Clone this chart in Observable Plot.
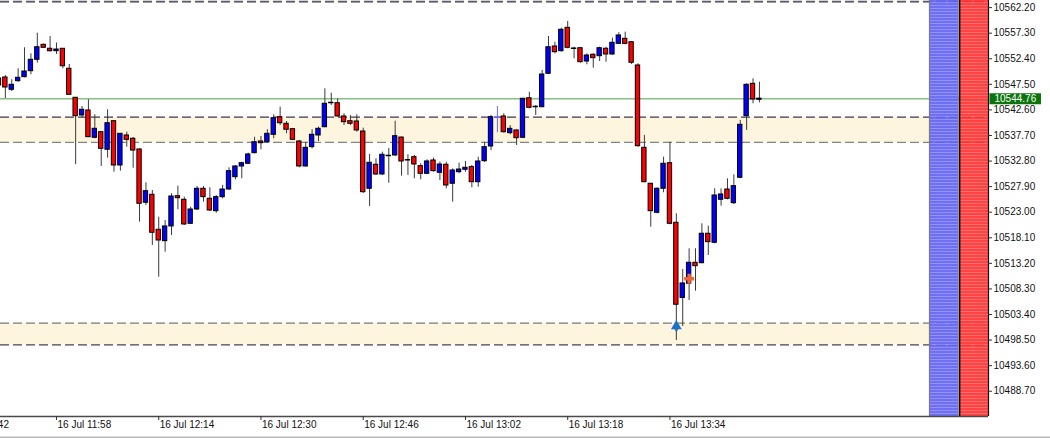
<!DOCTYPE html>
<html><head><meta charset="utf-8">
<script src="https://cdn.jsdelivr.net/npm/d3@7"></script>
<script src="https://cdn.jsdelivr.net/npm/@observablehq/plot@0.6"></script>
<style>
html,body{margin:0;padding:0;background:#fff;overflow:hidden}
#chart svg{display:block}
</style></head><body><div id="chart"></div>
<script>
// ---- data (M1 candles, 16 Jul, from 11:49) ----
const firstBar = "11:49";
const open = [
10548.62,10548.81,10546.45,10548.10,10548.87,10550.02,10552.20,10555.07,10554.31,10553.85,
10554.31,10550.48,10544.92,10541.53,10542.49,10537.26,10538.33,10534.96,10540.44,10531.95,
10537.70,10537.07,10535.02,10524.81,10526.34,10519.63,10517.45,10520.27,10526.07,10525.38,
10520.78,10523.52,10527.49,10525.57,10523.20,10525.88,10527.35,10529.71,10531.76,10532.28,
10534.31,10536.55,10536.41,10537.83,10541.20,10539.94,10538.91,10536.55,10531.76,10535.46,
10537.70,10539.29,10544.02,10543.89,10541.34,10540.44,10540.38,10538.46,10527.49,10532.09,
10530.23,10533.87,10533.87,10537.31,10533.04,10533.54,10531.82,10530.36,10532.91,10530.55,
10532.09,10528.45,10530.67,10531.13,10531.63,10528.75,10532.77,10535.59,10541.20,10541.34,
10538.14,10538.66,10537.26,10544.84,10543.25,10543.12,10549.52,10554.75,10553.85,10558.33,
10554.42,10554.42,10551.87,10553.16,10552.89,10554.31,10553.22,10555.26,10556.22,10555.57,
10551.11,10535.34,10528.45,10522.89,10527.49,10532.39,10520.97,10506.57,10509.29,10513.31,
10513.23,10518.87,10517.14,10525.38,10527.35,10524.73,10529.60,10541.40,10547.60,10544.54];
const high = [
10549.77,10549.19,10548.37,10550.48,10554.50,10553.35,10557.30,10555.23,10556.66,10555.42,
10554.36,10551.30,10544.98,10543.25,10544.54,10541.66,10538.46,10542.62,10540.57,10538.08,
10538.33,10537.31,10535.11,10528.64,10527.16,10522.05,10521.41,10526.53,10527.99,10525.88,
10523.96,10527.93,10527.93,10527.68,10526.20,10528.12,10531.51,10531.95,10532.58,10534.31,
10537.37,10537.51,10538.79,10541.66,10543.12,10540.38,10539.04,10536.74,10536.41,10538.79,
10539.29,10546.64,10545.80,10544.73,10541.86,10541.53,10541.66,10539.10,10534.06,10533.23,
10534.50,10535.21,10540.44,10537.37,10534.00,10533.87,10532.28,10533.04,10533.35,10532.58,
10532.58,10531.32,10532.39,10532.72,10531.95,10533.54,10536.41,10541.53,10543.25,10541.86,
10539.61,10538.79,10544.84,10545.99,10543.45,10550.15,10556.66,10555.57,10558.25,10559.54,
10554.61,10554.56,10553.35,10553.35,10554.61,10554.61,10556.34,10557.37,10557.49,10555.71,
10551.43,10537.70,10528.50,10527.68,10533.54,10536.41,10522.70,10512.03,10515.99,10515.99,
10520.78,10520.32,10527.49,10527.49,10529.40,10530.17,10540.57,10547.60,10548.56,10547.91];
const low = [
10546.70,10544.79,10546.13,10547.91,10548.75,10549.33,10551.55,10554.36,10553.66,10553.22,
10550.48,10545.36,10532.09,10541.01,10537.32,10537.07,10531.76,10533.35,10530.67,10530.86,
10535.46,10531.43,10521.09,10524.29,10516.63,10510.55,10515.34,10518.54,10523.46,10520.46,
10520.65,10523.33,10524.92,10523.14,10522.81,10525.57,10527.16,10529.21,10529.40,10532.14,
10534.19,10534.96,10536.22,10537.07,10539.61,10538.02,10536.74,10531.51,10531.63,10535.15,
10536.55,10539.17,10543.45,10541.24,10539.61,10539.61,10538.33,10526.59,10524.10,10530.04,
10530.04,10528.56,10533.68,10529.90,10530.04,10529.40,10529.21,10530.23,10530.67,10529.08,
10527.49,10524.92,10530.36,10530.67,10527.68,10527.79,10532.53,10534.82,10538.22,10538.14,
10537.83,10535.78,10537.07,10542.81,10541.53,10543.00,10549.38,10553.35,10553.66,10554.31,
10552.39,10551.55,10551.24,10550.59,10551.87,10551.74,10553.02,10555.13,10555.07,10551.30,
10535.46,10528.64,10520.13,10522.70,10526.72,10520.59,10498.43,10501.11,10506.09,10507.87,
10513.12,10514.71,10516.95,10524.15,10525.38,10524.48,10529.40,10538.66,10543.77,10543.96];
const close = [
10547.28,10546.89,10547.41,10548.75,10549.96,10552.20,10554.61,10554.50,10553.85,10554.17,
10550.97,10545.49,10541.40,10542.62,10537.37,10538.98,10535.15,10540.05,10531.95,10538.02,
10536.87,10534.82,10524.61,10527.03,10519.06,10517.58,10520.27,10526.01,10525.69,10520.65,
10523.52,10527.49,10525.88,10523.33,10525.88,10527.35,10530.86,10531.76,10532.39,10534.06,
10536.41,10536.22,10538.02,10541.01,10540.05,10538.79,10536.87,10531.76,10535.34,10537.83,
10538.98,10543.77,10544.02,10541.34,10540.25,10539.94,10538.66,10526.84,10532.47,10530.23,
10534.00,10533.87,10537.56,10532.72,10533.04,10532.14,10530.36,10532.72,10530.86,10532.14,
10528.12,10530.99,10531.18,10531.51,10528.75,10532.72,10535.46,10541.20,10541.20,10538.33,
10538.98,10537.18,10544.73,10543.00,10543.25,10549.38,10554.61,10553.66,10557.95,10554.50,
10554.42,10551.74,10553.02,10552.51,10554.42,10553.22,10555.46,10556.86,10555.26,10551.63,
10535.65,10528.75,10523.20,10527.49,10532.28,10520.78,10505.27,10509.35,10513.31,10512.66,
10518.87,10517.26,10526.20,10526.40,10525.57,10527.99,10539.75,10547.41,10544.59,10544.76];

const lastPrice = 10544.76;
const zoneUpper = [10563.40, 10541.20, 10501.74];   // upper edge of each zone
const zoneLower = [10563.20, 10536.36, 10497.60];   // lower edge of each zone
const buySignals = [{time: "13:35", price: 10500.97}];
const exitSignals = [{time: "13:37", price: 10510.25}];
const markerBar = "13:07";
const xTickLabels = ["16 Jul 11:42","16 Jul 11:58","16 Jul 12:14","16 Jul 12:30","16 Jul 12:46","16 Jul 13:02","16 Jul 13:18","16 Jul 13:34"];
const yTicks = [10562.20,10557.30,10552.40,10547.50,10542.60,10537.70,10532.80,10527.90,10523.00,10518.10,10513.20,10508.30,10503.40,10498.50,10493.60,10488.70];

// ---- build ----
const toMin = s => { const [h, m] = s.split(":").map(Number); return h * 60 + m; };
const t0 = toMin(firstBar);
const bars = open.map((o, i) => ({t: t0 + i, open: o, high: high[i], low: low[i], close: close[i]}));
const accentT = toMin(markerBar);
const bodies = bars.filter(d => Math.abs(d.close - d.open) >= 0.15);
const dojis = bars.filter(d => Math.abs(d.close - d.open) < 0.15);
const xTicks = xTickLabels.map(s => toMin(s.split(" ")[2]));
const xDomain = [709.24, 863.85];
const yDomain = [10483.86, 10563.56];
const zones = zoneUpper.map((u, i) => ({hi: u, lo: zoneLower[i]}));
const levels = zones.flatMap((z, i) => [{v: z.hi, k: i * 2}, {v: z.lo, k: i * 2 + 1}]);
const levelColor = ["#4a4a66", "#9a9a9a", "#3a3a55", "#858585", "#7a7a7a", "#444444"];
const W = 0.34;
const pxPerMin = 988 / (xDomain[1] - xDomain[0]);
const px = p => p / pxPerMin;   // pixel -> minutes (for decorations in margin)
const pxY = p => p * (yDomain[1] - yDomain[0]) / 416;
const panelBlue = {x1: xDomain[1] - px(59), x2: xDomain[1] - px(30)};
const panelRed = {x1: xDomain[1] - px(29), x2: xDomain[1]};

const chart = Plot.plot({
  width: 1050, height: 438,
  marginLeft: 0, marginRight: 62, marginTop: 0, marginBottom: 22,
  x: {type: "linear", domain: xDomain, axis: null},
  y: {domain: yDomain, axis: null},
  style: {fontFamily: "'Liberation Sans', Arial, sans-serif", fontSize: "10px", color: "#000", background: "#fff", overflow: "visible"},
  marks: [
    Plot.rect(zones, {x1: () => xDomain[0], x2: () => xDomain[1], y1: "lo", y2: "hi", fill: "#fdf5dd"}),
    Plot.ruleY(levels, {y: "v", x1: () => xDomain[0], x2: () => xDomain[1], stroke: d => levelColor[d.k], strokeWidth: 1.3, strokeDasharray: "9,4"}),
    Plot.ruleY([lastPrice], {x1: () => xDomain[0], x2: () => xDomain[1], stroke: "#86c086", strokeWidth: 1.5}),
    // candles
    Plot.ruleX(bars, {x: "t", y1: "low", y2: "high", stroke: d => d.t === accentT ? "#6a6aff" : "#3a3a3a", strokeWidth: 1}),
    Plot.rect(bodies, {x1: d => d.t - W, x2: d => d.t + W, y1: "open", y2: "close",
      fill: d => d.close > d.open ? "#0000ff" : "#ff0000", stroke: "#000", strokeWidth: 1}),
    Plot.ruleY(dojis, {y: "open", x1: d => d.t - 0.42, x2: d => d.t + 0.42, stroke: d => d.t === accentT ? "#6a6aff" : "#000", strokeWidth: 1.5}),
    // signals
    Plot.ruleX(buySignals, {x: d => toMin(d.time), y1: d => d.price - pxY(4), y2: d => d.price, stroke: "#1f6fc4", strokeWidth: 3}),
    Plot.dot(buySignals, {x: d => toMin(d.time), y: "price", symbol: "triangle", r: 4, fill: "#1f6fc4", dy: -1}),
    Plot.dot(exitSignals, {x: d => toMin(d.time), y: "price", symbol: "cross", r: 4.2, fill: "#f0643a"}),
    // side indicator panels
    Plot.rect([panelBlue], {x1: "x1", x2: "x2", y1: () => yDomain[0], y2: () => yDomain[1], fill: "url(#stripeBlue)", fillOpacity: 0.9}),
    Plot.rect([panelRed], {x1: "x1", x2: "x2", y1: () => yDomain[0], y2: () => yDomain[1], fill: "url(#stripeRed)", fillOpacity: 0.9}),
    Plot.ruleX([panelBlue.x1], {y1: () => yDomain[0], y2: () => yDomain[1], stroke: "#7a7a7a", strokeWidth: 1.2}),
    Plot.ruleX([panelRed.x1], {y1: () => yDomain[0], y2: () => yDomain[1], stroke: "#000", strokeWidth: 1.8}),
    // axes
    Plot.ruleY([yDomain[0]], {x1: () => xDomain[0], x2: () => xDomain[1], stroke: "#4a4a4a", strokeWidth: 1.5}),
    Plot.ruleX([xDomain[1]], {y1: () => yDomain[0], y2: () => yDomain[1], stroke: "#111", strokeWidth: 1.2}),
    Plot.ruleX(xTicks, {y1: () => yDomain[0], y2: () => yDomain[0] - pxY(4), stroke: "#333"}),
    Plot.text(xTickLabels, {x: (d, i) => xTicks[i], y: () => yDomain[0], text: d => d, textAnchor: "start", lineAnchor: "top", dx: 1, dy: 4, fill: "#111"}),
    Plot.ruleY(yTicks, {y: d => d, x1: () => xDomain[1], x2: () => xDomain[1] + px(4), stroke: "#333"}),
    Plot.text(yTicks, {x: () => xDomain[1], y: d => d, text: d => d.toFixed(2), textAnchor: "start", dx: 5, fill: "#111"}),
    Plot.ruleY([lastPrice], {x1: () => xDomain[1] + px(1.5), x2: () => xDomain[1] + px(53), stroke: "#0b740b", strokeWidth: 11}),
    Plot.text([lastPrice], {x: () => xDomain[1], y: d => d, text: d => d.toFixed(2), textAnchor: "start", dx: 6, fill: "#fff"}),
    Plot.ruleY([yDomain[0]], {x1: () => xDomain[0], x2: () => xDomain[1] + px(62), dy: 21, stroke: "#b8b8b8", strokeWidth: 2})
  ]
});

// striped fills for the two indicator panels
const svg = d3.select(chart.tagName.toLowerCase() === "svg" ? chart : chart.querySelector("svg"));
const defs = svg.insert("defs", ":first-child");
[["stripeBlue", "#5f5ff2", "#8585ff"], ["stripeRed", "#ff2e2e", "#ff5c5c"]].forEach(([id, base, line]) => {
  const p = defs.append("pattern").attr("id", id).attr("patternUnits", "userSpaceOnUse").attr("width", 8).attr("height", 3);
  p.append("rect").attr("width", 8).attr("height", 3).attr("fill", base);
  p.append("rect").attr("y", 2).attr("width", 8).attr("height", 1).attr("fill", line);
});
document.getElementById("chart").appendChild(chart);
</script>
</body></html>
